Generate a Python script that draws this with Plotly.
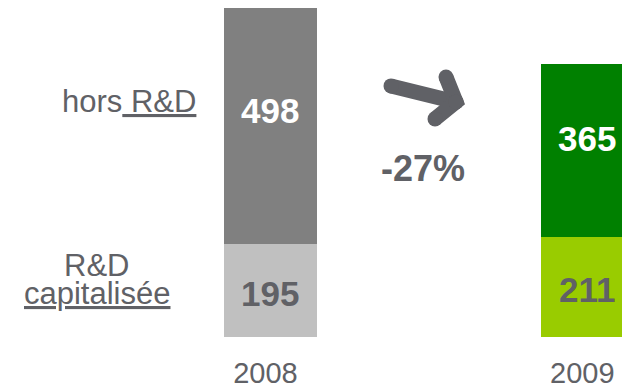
import plotly.graph_objects as go

# Data
years = ["2008", "2009"]
rd_capitalisee = [195, 211]        # R&D capitalisée (bottom segment)
hors_rd = [498, 365]               # hors R&D (top segment)
variation = "-27%"
label_hors_rd = "hors<u> R&D</u>"
label_rd_cap_1 = "R&D"
label_rd_cap_2 = "<u>capitalisée</u>"

# Styles
FONT = "Arial, Liberation Sans, sans-serif"
GREY_TXT = "#606166"
bottom_colors = ["#C0C0C0", "#99CC00"]
top_colors = ["#808080", "#008000"]
top_text_colors = ["white", "white"]
bottom_text_colors = [GREY_TXT, GREY_TXT]

W, H = 622, 390
PLOT_H = 337.3
PX_PER_UNIT = 0.475

fig = go.Figure()

fig.add_trace(go.Bar(
    x=years, y=rd_capitalisee, name="R&D capitalisée",
    marker=dict(color=bottom_colors, line=dict(width=0)),
    width=0.292, hoverinfo="skip",
))
fig.add_trace(go.Bar(
    x=years, y=hors_rd, name="hors R&D",
    marker=dict(color=top_colors, line=dict(width=0)),
    width=0.292, hoverinfo="skip",
))

# Trend arrow, drawn on a pixel-unit overlay axis
arrow_x = [391, 456, None, 446, 456, 435]
arrow_y = [86, 102, None, 77, 102, 119]
fig.add_trace(go.Scatter(
    x=arrow_x, y=arrow_y, xaxis="x2", yaxis="y2", mode="lines+markers",
    line=dict(color="#606166", width=15),
    marker=dict(color="#606166", size=15, line=dict(width=0)),
    hoverinfo="skip", showlegend=False,
))

annotations = []
# Value labels inside each segment (pixel overlay axis, positioned from the values)
x_scale = 316.9
x_first = 270.4
for i, yr in enumerate(years):
    b = rd_capitalisee[i]
    t = hors_rd[i]
    cx = x_first + i * x_scale
    annotations.append(dict(
        x=cx, y=PLOT_H - b * 0.47 * PX_PER_UNIT, xref="x2", yref="y2",
        text=f"<b>{b}</b>", showarrow=False,
        font=dict(family=FONT, size=35, color=bottom_text_colors[i]),
        xanchor="center", yanchor="middle",
    ))
    annotations.append(dict(
        x=cx, y=PLOT_H - (b + t * 0.565) * PX_PER_UNIT, xref="x2", yref="y2",
        text=f"<b>{t}</b>", showarrow=False,
        font=dict(family=FONT, size=35, color=top_text_colors[i]),
        xanchor="center", yanchor="middle",
    ))

# Series labels on the left
annotations.append(dict(
    x=198, y=102, xref="x2", yref="y2", text=label_hors_rd, showarrow=False,
    font=dict(family=FONT, size=31, color=GREY_TXT), xanchor="right", yanchor="middle",
))
annotations.append(dict(
    x=96.5, y=266, xref="x2", yref="y2", text=label_rd_cap_1, showarrow=False,
    font=dict(family=FONT, size=31, color=GREY_TXT), xanchor="center", yanchor="middle",
))
annotations.append(dict(
    x=96.5, y=294, xref="x2", yref="y2", text=label_rd_cap_2, showarrow=False,
    font=dict(family=FONT, size=31, color=GREY_TXT), xanchor="center", yanchor="middle",
))
# Variation label
annotations.append(dict(
    x=423, y=169, xref="x2", yref="y2", text=f"<b>{variation}</b>", showarrow=False,
    font=dict(family=FONT, size=36, color=GREY_TXT), xanchor="center", yanchor="middle",
))

fig.update_layout(
    width=W, height=H,
    margin=dict(l=0, r=0, t=0, b=H - PLOT_H),
    barmode="stack",
    showlegend=False,
    plot_bgcolor="white", paper_bgcolor="white",
    xaxis=dict(
        type="category", range=[-0.8533, 1.1095],
        showgrid=False, zeroline=False, showline=False, ticks="",
        tickfont=dict(family=FONT, size=29, color=GREY_TXT),
        ticklabelstandoff=16, ticklabelshift=-5,
    ),
    yaxis=dict(range=[0, PLOT_H / PX_PER_UNIT], visible=False, showgrid=False, zeroline=False),
    xaxis2=dict(range=[0, W], overlaying="x", visible=False),
    yaxis2=dict(range=[PLOT_H, 0], overlaying="y", visible=False),
    annotations=annotations,
)

fig.write_html("out.html")
